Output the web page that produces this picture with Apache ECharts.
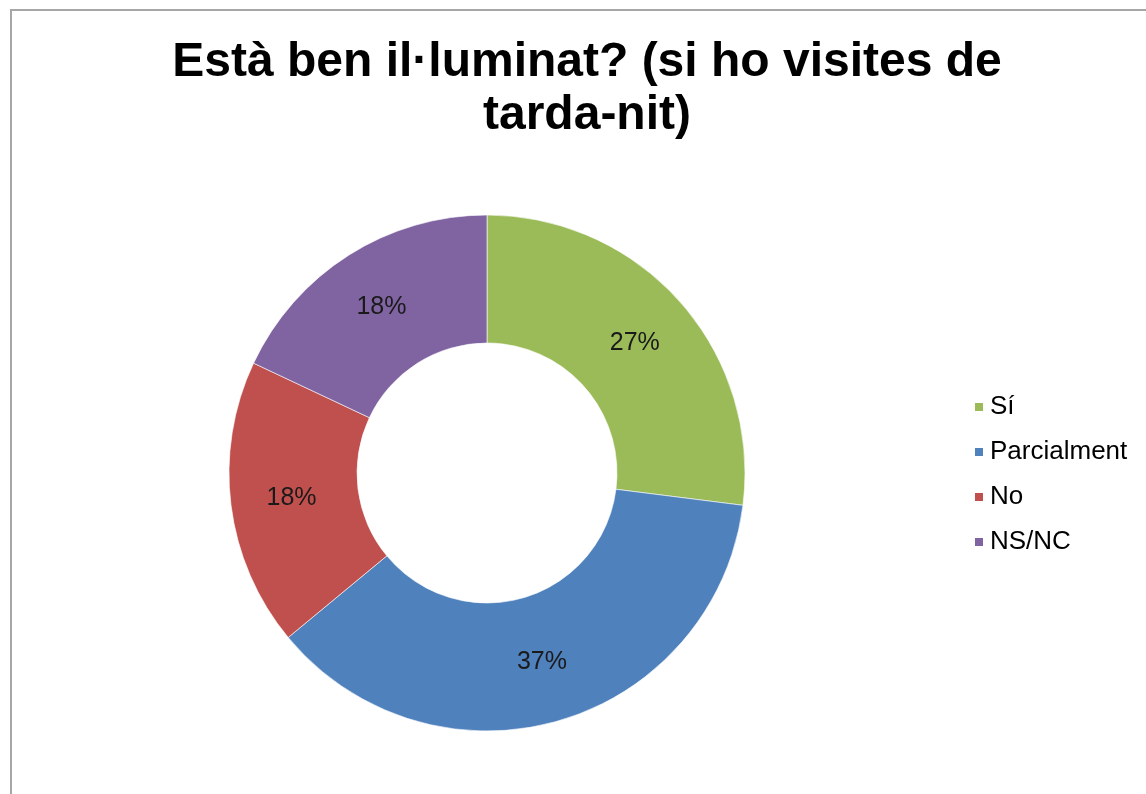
<!DOCTYPE html>
<html>
<head>
<meta charset="utf-8">
<script src="https://cdn.jsdelivr.net/npm/echarts@6/dist/echarts.min.js"></script>
<style>
    html, body { margin: 0; padding: 0; background: #fff; }
    #main { width: 1146px; height: 794px; }
</style>
</head>
<body>
<div id="main"></div>
<script type="text/javascript">
    // dades del gràfic
    var categories = ['Sí', 'Parcialment', 'No', 'NS/NC'];
    var values = [27, 37, 18, 18];
    var colors = ['#9BBB59', '#4F81BD', '#C0504D', '#8064A2'];

    var seriesData = categories.map(function (name, i) {
        return { name: name, value: values[i], itemStyle: { color: colors[i] } };
    });

    var myChart = echarts.init(document.getElementById('main'));
    var option = {
        backgroundColor: '#fff',
        animation: false,
        graphic: [{
            type: 'rect',
            shape: { x: 11, y: 10, width: 1200, height: 900 },
            style: { fill: 'none', stroke: '#a6a6a6', lineWidth: 2 },
            z: -1
        }],
        title: {
            text: 'Està ben il·luminat? (si ho visites de\ntarda-nit)',
            left: 582,
            top: 31,
            textAlign: 'center',
            textStyle: {
                fontFamily: 'Liberation Sans, Arial, sans-serif',
                fontSize: 48,
                fontWeight: 'bold',
                color: '#000',
                lineHeight: 53
            }
        },
        legend: {
            orient: 'vertical',
            left: 968,
            top: 389,
            itemWidth: 10,
            itemHeight: 10,
            itemGap: 19,
            icon: 'rect',
            data: categories,
            textStyle: {
                fontFamily: 'Liberation Sans, Arial, sans-serif',
                fontSize: 26,
                color: '#000',
                padding: [0, 0, 0, 1]
            }
        },
        series: [{
            type: 'pie',
            center: [487, 473],
            radius: [130, 258],
            startAngle: 90,
            clockwise: true,
            data: seriesData,
            itemStyle: { borderColor: '#ffffff', borderWidth: 0.6 },
            label: {
                position: 'inside',
                formatter: function (p) { return p.value + '%'; },
                fontFamily: 'Liberation Sans, Arial, sans-serif',
                fontSize: 25,
                color: '#1a1a1a'
            },
            labelLine: { show: false },
            emphasis: { disabled: true }
        }]
    };
    myChart.setOption(option);
</script>
</body>
</html>
